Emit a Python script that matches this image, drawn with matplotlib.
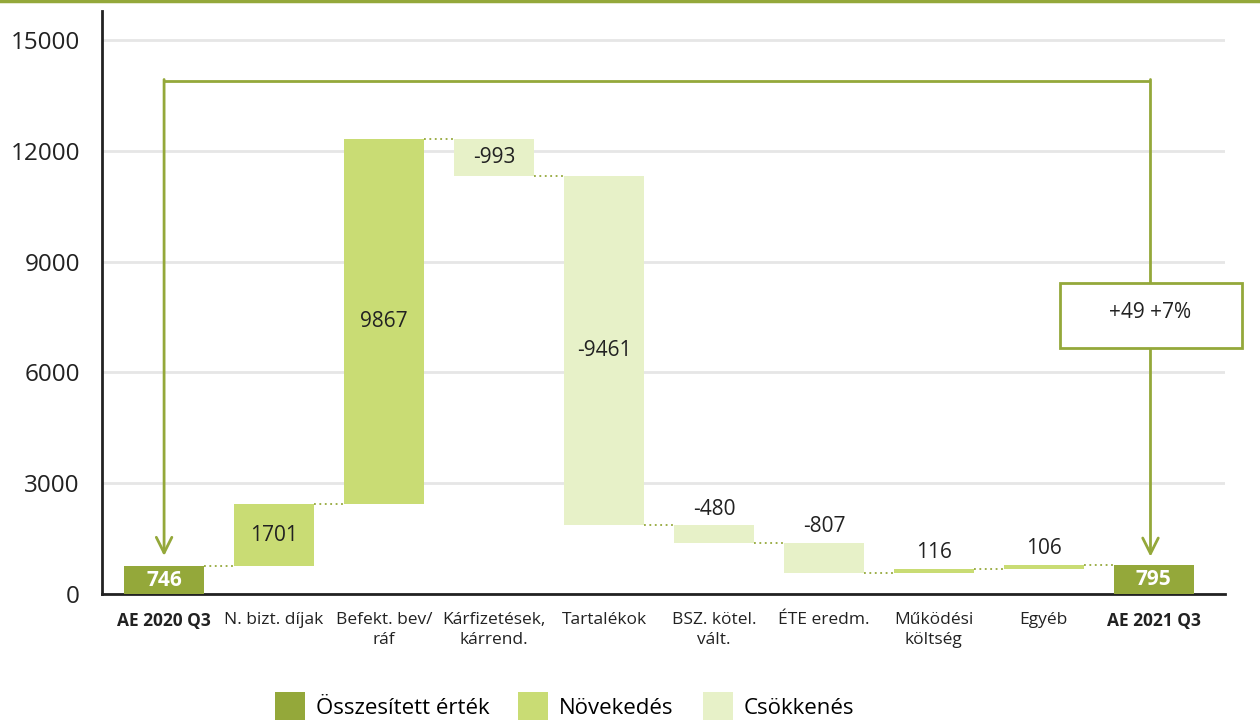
import matplotlib
matplotlib.use("Agg")
import matplotlib.pyplot as plt
from matplotlib.patches import Rectangle, Patch
from matplotlib.lines import Line2D
import numpy as np

plt.rcParams['font.family'] = ['Open Sans', 'DejaVu Sans']

categories = ['AE 2020 Q3', 'N. bizt. díjak', 'Befekt. bev/\nráf', 'Kárfizetések,\nkárrend.',
              'Tartalékok', 'BSZ. kötel.\nvált.', 'ÉTE eredm.', 'Működési\nköltség',
              'Egyéb', 'AE 2021 Q3']
changes = [746, 1701, 9867, -993, -9461, -480, -807, 116, 106, 795]
kinds = ['total', 'inc', 'inc', 'dec', 'dec', 'dec', 'dec', 'inc', 'inc', 'total']
diff_label = '+49 +7%'
legend_labels = ['Összesített érték', 'Növekedés', 'Csökkenés']

colors = {'total': '#94a83a', 'inc': '#c9dc74', 'dec': '#e7f1c8'}
olive = '#94a83a'

fig = plt.figure(figsize=(12.6, 7.2), dpi=100)
ax = fig.add_axes([0.081, 0.175, 0.891, 0.81])

x = np.arange(len(categories))
width = 0.727

# waterfall bottoms / tops
bottoms, tops = [], []
running = 0
for c, k in zip(changes, kinds):
    if k == 'total':
        bottoms.append(0)
        tops.append(c)
        running = c
    else:
        new = running + c
        bottoms.append(min(running, new))
        tops.append(max(running, new))
        running = new

for i in range(len(categories)):
    ax.bar(x[i], tops[i] - bottoms[i], bottom=bottoms[i], width=width,
           color=colors[kinds[i]], zorder=3)

# dotted connectors
level = changes[0]
for i in range(len(categories) - 1):
    if kinds[i] != 'total':
        level = level + changes[i]
    ax.plot([x[i] + width / 2, x[i + 1] - width / 2], [level, level],
            linestyle=(0, (1, 2)), color=olive, lw=1.3, zorder=2)

# value labels
for i in range(len(categories)):
    h = tops[i] - bottoms[i]
    if kinds[i] == 'total':
        ax.text(x[i], (tops[i] + bottoms[i]) / 2, str(changes[i]), ha='center', va='center',
                fontsize=15, fontweight='bold', color='white', zorder=5)
    elif h >= 900:
        ax.text(x[i], (tops[i] + bottoms[i]) / 2, str(changes[i]), ha='center', va='center',
                fontsize=15, color='#222222', zorder=5)
    else:
        ax.text(x[i], tops[i] + 150, str(changes[i]), ha='center', va='bottom',
                fontsize=15, color='#222222', zorder=5)

# bracket with arrows
top_y = 13900
ax.plot([x[0], 8.97], [top_y, top_y], color=olive, lw=2, solid_capstyle='butt', zorder=4)
for xa, tip in [(x[0], 1030), (8.97, 1010)]:
    ax.annotate('', xy=(xa, tip), xytext=(xa, top_y + 30),
                arrowprops=dict(arrowstyle='->', color=olive, lw=2, mutation_scale=28,
                                shrinkA=0, shrinkB=0), zorder=4)

box = Rectangle((8.145, 6660), 1.655, 1760, facecolor='white', edgecolor=olive, lw=2,
                zorder=6, clip_on=False)
ax.add_patch(box)
ax.text(8.97, 7610, diff_label, ha='center', va='center', fontsize=15, color='#222222', zorder=7)

ax.set_xlim(-0.564, 9.645)
ax.set_ylim(0, 15790)
ax.set_yticks([0, 3000, 6000, 9000, 12000, 15000])
ax.yaxis.grid(True, color='#e6e6e6', lw=2, zorder=0)
ax.set_axisbelow(True)
ax.tick_params(axis='y', length=0, pad=16, labelsize=17.5, labelcolor='#222222')
ax.tick_params(axis='x', length=0, pad=13, labelsize=12.5, labelcolor='#222222')
ax.set_xticks(x)
ax.set_xticklabels(categories, va='top', linespacing=1.35)
for i, lab in enumerate(ax.get_xticklabels()):
    if kinds[i] == 'total':
        lab.set_fontweight('bold')
for s in ['top', 'right']:
    ax.spines[s].set_visible(False)
ax.spines['left'].set_color('#222222')
ax.spines['bottom'].set_color('#222222')
ax.spines['left'].set_linewidth(2)
ax.spines['bottom'].set_linewidth(2)

handles = [Patch(facecolor=colors[k]) for k in ['total', 'inc', 'dec']]
fig.legend(handles, legend_labels, loc='lower center', bbox_to_anchor=(0.448, -0.032),
           ncol=3, frameon=False, fontsize=16, handlelength=1.35, handleheight=1.8,
           columnspacing=1.3, handletextpad=0.5)

fig.add_artist(Line2D([0, 1], [0.998, 0.998], color=olive, lw=2.5, transform=fig.transFigure))

plt.savefig('out.png', dpi=100)
